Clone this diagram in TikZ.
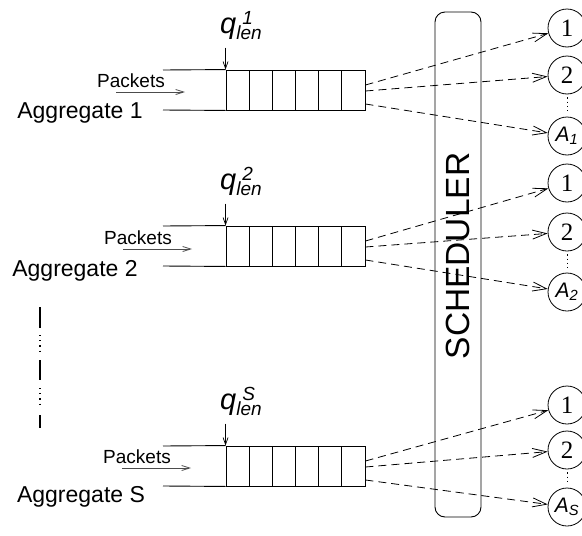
\documentclass[tikz,border=0pt]{standalone}
\usepackage{amsmath}
\usepackage{fontspec}
\setmainfont{Liberation Sans}
\newfontfamily\timesfont{Liberation Serif}
\usetikzlibrary{arrows.meta}

\newcommand{\qlen}[1]{\textit{q}\rlap{\hspace{6pt}\raisebox{9pt}{\fontsize{19}{22}\selectfont\textit{#1}}}\raisebox{-6pt}{\fontsize{19}{22}\selectfont\textit{len}}}

\tikzset{
  qline/.style={line width=0.9pt},
  cell/.style={draw, line width=0.9pt, minimum width=139pt, minimum height=40pt, inner sep=0pt},
  pkt/.style={-{Straight Barb[length=8pt,width=5pt]}, line width=0.8pt, black!70},
  qarr/.style={-{Straight Barb[length=7pt,width=5pt]}, line width=0.7pt},
  sched/.style={dash pattern=on 8pt off 5pt, line width=0.8pt, -{Straight Barb[length=14pt,width=9pt]}},
  dest/.style={circle, draw, line width=0.8pt, minimum size=38pt, inner sep=0pt},
}

\begin{document}
\begin{tikzpicture}[x=1pt,y=-1pt]
\useasboundingbox (0,0) rectangle (582,536);
% scheduler
\draw[line width=0.9pt, rounded corners=10pt] (435,12) rectangle (481,517);
\node[rotate=90, inner sep=0pt, font=\fontsize{33.5}{40}\selectfont] (sch) at (458,256) {SCHEDULER};

% aggregates
\foreach \g/\y/\s/\ax/\ay/\px/\py/\ca/\cb/\cc in {1/70/1/80/113/131/81/28/75/136,
    2/226/2/75/271/138/238/183/232/292, 3/446/S/81/497/137/457/405/450/507} {
  \node[cell] (queue\g) at (295.5,\y+20) {};
  \foreach \c in {1,...,5} { \draw[qline] (226+\c*23.17,\y) -- (226+\c*23.17,\y+40); }
  \draw[qline] (163,\y) -- (queue\g.north west);
  \draw[qline] (163,\y+40) -- (queue\g.south west);
  \node[inner sep=0pt, anchor=base west, font=\fontsize{29}{34}\selectfont] (qlen\g) at (220,\y-37) {\qlen{\s}};
  \draw[qarr] ([yshift=22pt]queue\g.north west) -- (queue\g.north west);
  \node[inner sep=0pt, font=\fontsize{19}{23}\selectfont] (pk\g) at (\px,\py) {Packets};
  \coordinate (pa\g) at (\px-15,\py+11);
  \coordinate (pb\g) at (\px+54,\py+11);
  \draw[pkt] (pa\g) -- (pb\g);
  \node[inner sep=0pt, font=\fontsize{23}{27}\selectfont] (agg\g) at (\ax,\ay) {Aggregate \s};
  % destinations
  \node[dest, font=\timesfont\fontsize{25}{29}\selectfont] (d\g1) at (567,\ca) {1};
  \node[dest, font=\timesfont\fontsize{25}{29}\selectfont] (d\g2) at (567,\cb) {2};
  \node[dest, font=\fontsize{21}{25}\selectfont] (d\g3) at (567,\cc) {$\textit{A}_{\textit{\s}}$};
  \draw[dash pattern=on 1.2pt off 3pt, line width=1pt, shorten >=3pt, shorten <=3pt] (d\g2) -- (d\g3);
  \draw[sched] ([yshift=5pt]queue\g.east) -- (d\g1);
  \draw[sched] ([yshift=-1pt]queue\g.east) -- (d\g2);
  \draw[sched] ([yshift=-14pt]queue\g.east) -- (d\g3);
}

% more aggregates
\draw[line width=2pt] (40,307) -- (40,328);
\draw[line width=1.2pt, dash pattern=on 1.2pt off 4pt] (40,335) -- (40,352);
\draw[line width=2pt] (40,360) -- (40,380);
\draw[line width=1.2pt, dash pattern=on 1.2pt off 4pt] (40,388) -- (40,407);
\draw[line width=2pt] (40,415) -- (40,428);
\end{tikzpicture}
\end{document}
